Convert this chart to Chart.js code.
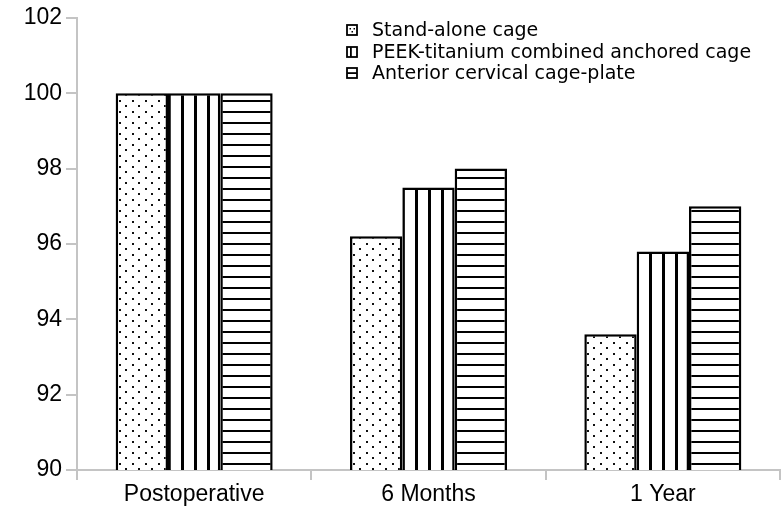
<!DOCTYPE html>
<html>
<head>
<meta charset="utf-8">
<script src="https://cdn.jsdelivr.net/npm/chart.js@4.4.1/dist/chart.umd.min.js"></script>
<style>
  html, body { margin: 0; padding: 0; background: #fff; }
  #wrap { width: 784px; height: 507px; }
</style>
</head>
<body>
<div id="wrap"><canvas id="cageChart" width="784" height="507"></canvas></div>
<script>
// Daten
const categories = ['Postoperative', '6 Months', '1 Year'];
const standAlone = [100, 96.2, 93.6];
const peekTitanium = [100, 97.5, 95.8];
const cagePlate = [100, 98.0, 97.0];
const seriesNames = ['Stand-alone cage', 'PEEK-titanium combined anchored cage', 'Anterior cervical cage-plate'];
const yTicks = [90, 92, 94, 96, 98, 100, 102];

const axisGrey = '#c4c4c4';
const tickFont = { family: "'Liberation Sans', Arial, sans-serif", size: 23 };
const legendFont = "19px 'DejaVu Sans', sans-serif";

// Muster erzeugen
function makeTile(w, h, draw) {
    const c = document.createElement('canvas');
    c.width = w; c.height = h;
    const g = c.getContext('2d');
    g.fillStyle = '#fff';
    g.fillRect(0, 0, w, h);
    g.fillStyle = '#000';
    draw(g);
    return document.createElement('canvas').getContext('2d').createPattern(c, 'repeat');
}

const dotPattern = makeTile(13, 11, g => {
    g.fillStyle = '#111';
    g.fillRect(2, 1, 2, 2);
    g.fillRect(8, 6, 2, 2);
});
// Streifen so verschoben, dass sie zwischen den Rahmen liegen
const vertPattern = makeTile(13, 4, g => {
    g.fillRect(12, 0, 1, 4);
    g.fillRect(0, 0, 2, 4);
});
const horizPattern = makeTile(4, 11, g => {
    g.fillRect(0, 1, 4, 2);
});

// Legende als eigenes Plugin (vertikal gestapelt)
const stackedLegend = {
    id: 'stackedLegend',
    afterDraw(chart) {
        const ctx = chart.ctx;
        const x0 = 347, rows = [30, 52, 73];
        ctx.save();
        rows.forEach((y, i) => {
            const top = y - 5;
            ctx.fillStyle = '#fff';
            ctx.fillRect(x0, top, 10, 10);
            ctx.fillStyle = '#000';
            if (i === 0) {
                ctx.fillRect(x0 + 2.5, top + 3, 1.5, 1.5);
                ctx.fillRect(x0 + 6.5, top + 3, 1.5, 1.5);
                ctx.fillRect(x0 + 4.5, top + 6, 1.5, 1.5);
            } else if (i === 1) {
                ctx.fillRect(x0 + 3, top, 1.8, 10);
            } else {
                ctx.fillRect(x0, top + 4.2, 10, 1.8);
            }
            ctx.strokeStyle = '#000';
            ctx.lineWidth = 1.8;
            ctx.strokeRect(x0, top, 10, 10);
            ctx.font = legendFont;
            ctx.textBaseline = 'middle';
            ctx.textAlign = 'left';
            ctx.fillStyle = '#000';
            ctx.fillText(seriesNames[i], x0 + 25, y + 1);
        });
        ctx.restore();
    }
};

const ctx = document.getElementById('cageChart').getContext('2d');
new Chart(ctx, {
    type: 'bar',
    data: {
        labels: categories,
        datasets: [
            { label: seriesNames[0], data: standAlone, backgroundColor: dotPattern },
            { label: seriesNames[1], data: peekTitanium, backgroundColor: vertPattern },
            { label: seriesNames[2], data: cagePlate, backgroundColor: horizPattern }
        ]
    },
    options: {
        responsive: false,
        animation: false,
        layout: { padding: { top: 15, right: 4, left: 0, bottom: 0 } },
        datasets: {
            bar: {
                borderColor: '#000',
                borderWidth: 2.5,
                categoryPercentage: 0.67,
                barPercentage: 1.0
            }
        },
        scales: {
            y: {
                min: 90,
                max: 102,
                afterFit: s => { s.width = 77; },
                afterBuildTicks: s => { s.ticks = yTicks.map(v => ({ value: v })); },
                border: { color: axisGrey, width: 2 },
                grid: { drawOnChartArea: false, color: axisGrey, tickLength: 11, lineWidth: 2 },
                ticks: { color: '#000', font: tickFont, padding: 4 }
            },
            x: {
                afterFit: s => { s.height = 37; },
                border: { color: axisGrey, width: 2 },
                grid: { drawOnChartArea: false, color: axisGrey, tickLength: 10, lineWidth: 2 },
                ticks: { color: '#000', font: tickFont, padding: 1, maxRotation: 0 }
            }
        },
        plugins: {
            legend: { display: false },
            tooltip: { enabled: false }
        }
    },
    plugins: [stackedLegend]
});
</script>
</body>
</html>
